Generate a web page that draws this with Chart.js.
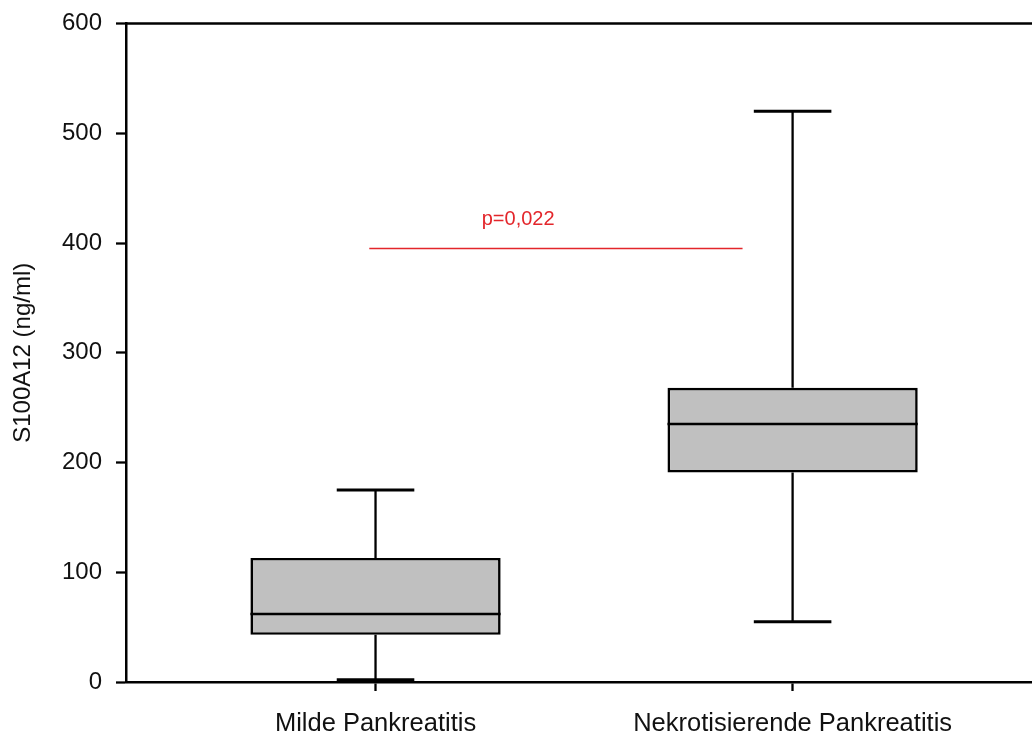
<!DOCTYPE html>
<html>
<head>
<meta charset="utf-8">
<title>S100A12</title>
<script src="https://cdn.jsdelivr.net/npm/chart.js@4/dist/chart.umd.min.js"></script>
<style>
  html, body { margin: 0; padding: 0; background: #ffffff; }
  #wrap { width: 1032px; height: 736px; }
</style>
</head>
<body>
<div id="wrap"><canvas id="c" width="1032" height="736"></canvas></div>
<script>
// Groups and five-number summaries (ng/ml)
const categories = ['Milde Pankreatitis', 'Nekrotisierende Pankreatitis'];
const whiskerLow  = [2, 55];
const quartile1   = [43, 191];
const medians     = [62, 235];
const quartile3   = [113, 268];
const whiskerHigh = [175, 520];
const yTicks      = [0, 100, 200, 300, 400, 500, 600];

// Significance marker between the groups (x in group units, y in ng/ml)
const sigLine  = { from: 0.985, to: 1.88, y: 395 };
const sigLabel = { text: 'p=0,022', x: 1.342, y: 416 };

const FONT = '"Liberation Sans", Arial, "DejaVu Sans", sans-serif';
const BLACK = '#000000';
const RED = '#e3262b';

const boxData = categories.map((c, i) => ({ x: i + 1, y: [quartile1[i], quartile3[i]] }));

// Whiskers, caps, medians, frame top and the p-value marker
const boxExtras = {
  id: 'boxExtras',
  beforeDatasetsDraw(chart) {
    const { ctx, scales: { x, y } } = chart;
    const meta = chart.getDatasetMeta(0);
    ctx.save();
    ctx.strokeStyle = BLACK;
    ctx.lineCap = 'butt';
    categories.forEach((c, i) => {
      const cx = x.getPixelForValue(i + 1);
      const bw = meta.data[i].width;
      const capHalf = bw * 0.155;
      const yLo = y.getPixelForValue(whiskerLow[i]);
      const yQ1 = y.getPixelForValue(quartile1[i]);
      const yQ3 = y.getPixelForValue(quartile3[i]);
      const yHi = y.getPixelForValue(whiskerHigh[i]);
      ctx.lineWidth = 2.3;
      ctx.beginPath();
      ctx.moveTo(cx, yHi); ctx.lineTo(cx, yQ3);
      ctx.moveTo(cx, yQ1); ctx.lineTo(cx, yLo);
      ctx.stroke();
      ctx.lineWidth = 3;
      ctx.beginPath();
      ctx.moveTo(cx - capHalf, yHi); ctx.lineTo(cx + capHalf, yHi);
      ctx.moveTo(cx - capHalf, yLo); ctx.lineTo(cx + capHalf, yLo);
      ctx.stroke();
    });
    ctx.restore();
  },
  afterDatasetsDraw(chart) {
    const { ctx, chartArea, scales: { x, y } } = chart;
    const meta = chart.getDatasetMeta(0);
    ctx.save();
    // medians
    ctx.strokeStyle = BLACK;
    ctx.lineWidth = 2.5;
    categories.forEach((c, i) => {
      const cx = x.getPixelForValue(i + 1);
      const bw = meta.data[i].width;
      const ym = y.getPixelForValue(medians[i]);
      ctx.beginPath();
      ctx.moveTo(cx - bw / 2, ym); ctx.lineTo(cx + bw / 2, ym);
      ctx.stroke();
    });
    // top frame line
    ctx.lineWidth = 2.5;
    ctx.beginPath();
    ctx.moveTo(chartArea.left - 1, chartArea.top);
    ctx.lineTo(chartArea.right, chartArea.top);
    ctx.stroke();
    // significance line and label
    const ys = y.getPixelForValue(sigLine.y);
    ctx.strokeStyle = RED;
    ctx.lineWidth = 1.4;
    ctx.beginPath();
    ctx.moveTo(x.getPixelForValue(sigLine.from), ys);
    ctx.lineTo(x.getPixelForValue(sigLine.to), ys);
    ctx.stroke();
    ctx.fillStyle = RED;
    ctx.font = '20px ' + FONT;
    ctx.textAlign = 'center';
    ctx.textBaseline = 'alphabetic';
    ctx.fillText(sigLabel.text, x.getPixelForValue(sigLabel.x), y.getPixelForValue(sigLabel.y));
    ctx.restore();
  }
};

new Chart(document.getElementById('c'), {
  type: 'bar',
  data: {
    datasets: [{
      label: 'S100A12',
      data: boxData,
      backgroundColor: '#c0c0c0',
      borderColor: BLACK,
      borderWidth: 2.6,
      borderSkipped: false,
      categoryPercentage: 0.6,
      barPercentage: 1.0
    }]
  },
  options: {
    responsive: false,
    animation: false,
    devicePixelRatio: 1,
    layout: { padding: { top: 23.5, right: 0, bottom: 0, left: 0 } },
    plugins: {
      legend: { display: false },
      tooltip: { enabled: false },
      title: { display: false }
    },
    scales: {
      x: {
        type: 'linear',
        min: 0.4017,
        max: 2.574,
        offset: false,
        afterBuildTicks(scale) {
          scale.ticks = categories.map((c, i) => ({ value: i + 1 }));
        },
        afterFit(scale) { scale.height = 54; },
        ticks: {
          autoSkip: false,
          maxRotation: 0,
          minRotation: 0,
          padding: 18,
          color: '#111111',
          font: { family: FONT, size: 25.5 },
          callback(v) { return categories[Math.round(v) - 1] || ''; }
        },
        grid: {
          offset: false,
          drawOnChartArea: false,
          drawTicks: true,
          tickLength: 9,
          tickColor: BLACK,
          tickWidth: 2.3
        },
        border: { display: true, color: BLACK, width: 2.5 }
      },
      y: {
        type: 'linear',
        min: 0,
        max: 600,
        afterBuildTicks(scale) {
          scale.ticks = yTicks.map(v => ({ value: v }));
        },
        afterFit(scale) {
          scale.width = 126;
          scale.paddingTop = 0;
          scale.paddingBottom = 0;
        },
        ticks: {
          padding: 14,
          color: '#111111',
          font: { family: FONT, size: 24 }
        },
        grid: {
          drawOnChartArea: false,
          drawTicks: true,
          tickLength: 10,
          tickColor: BLACK,
          tickWidth: 2.3
        },
        border: { display: true, color: BLACK, width: 2.5 },
        title: {
          display: true,
          text: 'S100A12 (ng/ml)',
          color: '#111111',
          font: { family: FONT, size: 24 },
          padding: { top: 9, bottom: 0 }
        }
      }
    }
  },
  plugins: [boxExtras]
});
</script>
</body>
</html>
